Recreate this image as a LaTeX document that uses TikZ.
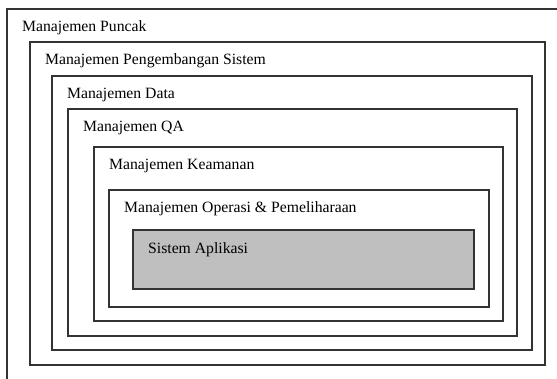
\documentclass[tikz,border=0pt]{standalone}
\usepackage{fontspec}
\setmainfont{Liberation Serif}
\tikzset{
  layer/.style={draw=black!80, line width=1.2pt},
  layerlabel/.style={anchor=base west, inner sep=0pt}
}
\begin{document}
\begin{tikzpicture}[x=1pt, y=-1pt, font=\fontsize{15.7}{18}\selectfont]
\useasboundingbox (0,0) rectangle (557,378);
\clip (0,0) rectangle (557,378);
% nested management layers
\foreach \l/\t/\r/\b/\txt [count=\i] in
  {7/9/600/420/{Manajemen Puncak},
   30/42/545/365/{Manajemen Pengembangan Sistem},
   52/76/532/350/{Manajemen Data},
   68/109/517/336/{Manajemen QA},
   94/147/503/321/{Manajemen Keamanan},
   109/190/489/307/{Manajemen Operasi \& Pemeliharaan}}
{
\draw[layer] (\l,\t) rectangle (\r,\b);
\node[layerlabel] (lbl\i) at (\l+15,\t+22) {\txt};
}
% core
\draw[layer, fill=black!25] (133,230) rectangle (474,289);
\node[layerlabel] (app) at (148,253) {Sistem Aplikasi};
\end{tikzpicture}
\end{document}
